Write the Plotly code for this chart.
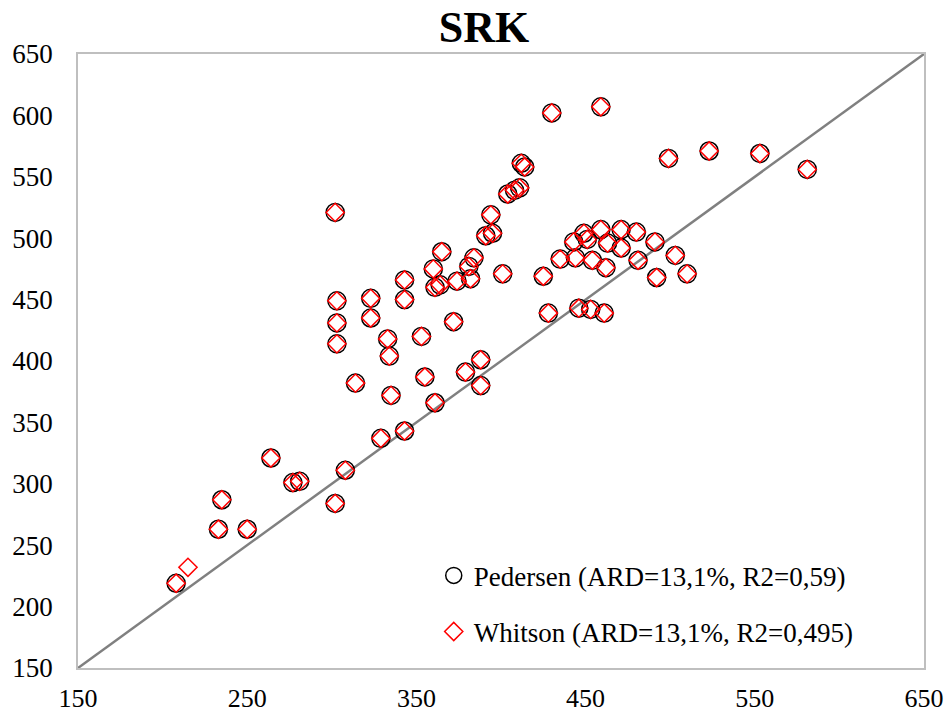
import plotly.graph_objects as go

# Pedersen / Whitson data (x = measured, y = calculated)
ped_x = [208, 233, 250, 235, 264, 277, 281, 302, 308, 329,
         302, 303, 303, 303, 323, 323, 343, 343, 333, 334,
         353, 372, 314, 335, 355, 361, 379, 388, 388, 343,
         365, 360, 361, 364, 374, 381, 384, 382, 394, 391,
         395, 401, 430, 459, 412, 414, 404, 408, 411, 425,
         428, 446, 453, 461, 435, 444, 443, 449, 451, 459,
         454, 463, 462, 471, 471, 480, 481, 491, 492, 503,
         510, 499, 523, 553, 581]
ped_y = [219, 263, 263, 287, 321, 301, 302, 284, 311, 337,
         521, 449, 431, 414, 451, 435, 466, 450, 418, 404,
         420, 432, 382, 372, 387, 366, 391, 401, 380, 343,
         489, 475, 460, 462, 465, 477, 484, 467, 519, 502,
         504, 471, 602, 607, 561, 558, 536, 539, 541, 469,
         439, 443, 442, 439, 483, 484, 497, 504, 499, 507,
         482, 496, 476, 507, 492, 505, 482, 497, 468, 486,
         471, 565, 571, 569, 556]
whit_x = ped_x + [215]
whit_y = ped_y + [232]

diag = [150, 650]
ticks = [150, 250, 350, 450, 550, 650]
yticks = [150, 200, 250, 300, 350, 400, 450, 500, 550, 600, 650]

labels = ["Pedersen (ARD=13,1%, R2=0,59)", "Whitson (ARD=13,1%, R2=0,495)"]

FONT = "Liberation Serif"

fig = go.Figure()
fig.add_trace(go.Scatter(x=diag, y=diag, mode="lines",
                         line=dict(color="#808080", width=2.5),
                         showlegend=False, hoverinfo="skip"))
fig.add_trace(go.Scatter(x=ped_x, y=ped_y, mode="markers", name=labels[0],
                         legendgroup="a",
                         marker=dict(symbol="circle-open", size=18, color="black",
                                     line=dict(width=1.5, color="black"))))
fig.add_trace(go.Scatter(x=whit_x, y=whit_y, mode="markers", name=labels[1],
                         legendgroup="b",
                         marker=dict(symbol="diamond-open", size=14, color="red",
                                     line=dict(width=1.5, color="red"))))

axis_common = dict(showgrid=False, zeroline=False, showline=True, mirror=True,
                   linecolor="#bfbfbf", linewidth=1.5, ticks="", automargin=False)

fig.update_layout(
    width=949, height=718,
    margin=dict(l=78, r=25, t=54, b=50),
    paper_bgcolor="white", plot_bgcolor="white",
    title=dict(text="<b>SRK</b>", x=0.51, xanchor="center", y=0.985, yanchor="top",
               font=dict(family=FONT, size=44, color="black")),
    xaxis=dict(range=[150, 650], tickvals=ticks, ticklabelstandoff=6,
               tickfont=dict(family=FONT, size=26, color="black"), **axis_common),
    yaxis=dict(range=[150, 650], tickvals=yticks, ticklabelstandoff=18,
               tickfont=dict(family=FONT, size=27, color="black"), **axis_common),
    legend=dict(x=0.4205, y=0.19, xanchor="left", yanchor="top",
                bgcolor="rgba(0,0,0,0)", tracegroupgap=18,
                font=dict(family=FONT, size=27, color="black"),
                itemwidth=30),
    showlegend=True,
)

fig.write_html("out.html")
